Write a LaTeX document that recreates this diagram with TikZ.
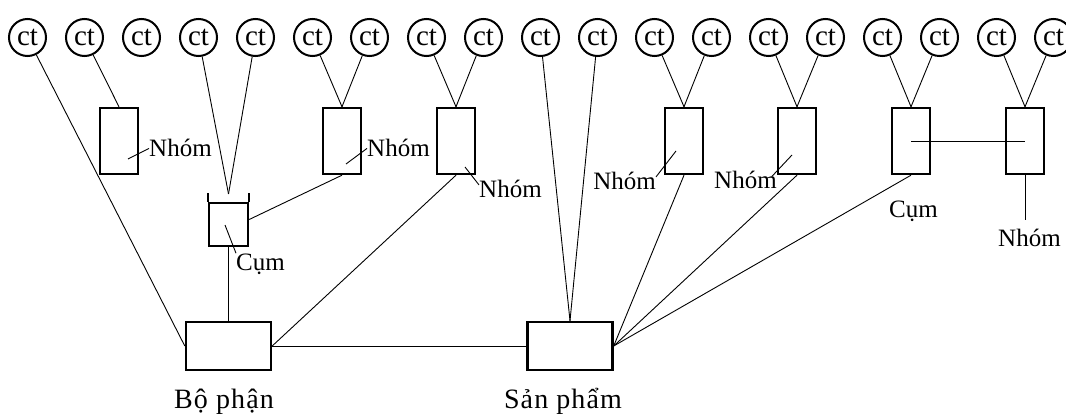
\documentclass[tikz,border=0pt]{standalone}
\usepackage{fontspec}
\setmainfont{Liberation Serif}
\newfontfamily\spaced[LetterSpace=4]{Liberation Serif}
\usetikzlibrary{calc}
\begin{document}
\begin{tikzpicture}[x=1pt,y=-1pt,
  ct/.style={circle,draw,line width=2pt,minimum size=37pt,inner sep=0pt,font=\fontsize{29}{29}\selectfont},
  box/.style={draw,line width=2.4pt,minimum width=38pt,minimum height=66pt,inner sep=0pt},
  cupbox/.style={draw,line width=2.4pt,minimum width=39pt,minimum height=43pt,inner sep=0pt},
  big/.style={draw,line width=2.4pt,minimum width=85pt,minimum height=48pt,inner sep=0pt},
  lab/.style={inner sep=0pt,font=\fontsize{25}{25}\selectfont},
  biglab/.style={inner sep=0pt,font=\spaced\fontsize{28}{28}\selectfont},
  wire/.style={line width=0.9pt}]
\fill[white] (0,0) rectangle (1066,414);
\useasboundingbox (0,0) rectangle (1066,414);
% circles
\foreach \i in {0,...,18} {
  \node[ct] (c\i) at ({27.5+57*\i},37.5) {ct};
}
% boxes
\node[box] (n1) at (119,141) {};
\node[cupbox] (cum1) at (228.5,224.5) {};
\node[box] (n2) at (342,141) {};
\node[box] (n3) at (456,141) {};
\node[box] (n4) at (684,141) {};
\node[box] (n5) at (797,141) {};
\node[box] (cum2) at (911,141) {};
\node[box] (n6) at (1025,141) {};
\node[big] (bp) at (228.5,346) {};
\node[big] (sp) at (570,346) {};
% cup extensions
\draw[line width=2.4pt] (cum1.north west) -- ++(0,-9);
\draw[line width=2.4pt] (cum1.north east) -- ++(0,-9);
\coordinate (cum1top) at (228.5,194);
% connectors
\draw[wire] (c0) -- (bp.west);
\draw[wire] (c1) -- (n1.north);
\draw[wire] (c3) -- (cum1top);
\draw[wire] (c4) -- (cum1top);
\draw[wire] (c5) -- (n2.north);
\draw[wire] (c6) -- (n2.north);
\draw[wire] (c7) -- (n3.north);
\draw[wire] (c8) -- (n3.north);
\draw[wire] (c9) -- (sp.north);
\draw[wire] (c10) -- (sp.north);
\draw[wire] (c11) -- (n4.north);
\draw[wire] (c12) -- (n4.north);
\draw[wire] (c13) -- (n5.north);
\draw[wire] (c14) -- (n5.north);
\draw[wire] (c15) -- (cum2.north);
\draw[wire] (c16) -- (cum2.north);
\draw[wire] (c17) -- (n6.north);
\draw[wire] (c18) -- (n6.north);
\draw[wire] ($(cum1.east)+(0,-5)$) -- (n2.south);
\draw[wire] (cum1.south) -- (bp.north);
\draw[wire] (n3.south) -- (bp.east);
\draw[wire] (bp.east) -- (sp.west);
\draw[wire] (n4.south) -- (sp.east);
\draw[wire] (n5.south) -- (sp.east);
\draw[wire] (cum2.south) -- (sp.east);
\draw[wire] (cum2.center) -- (n6.center);
\coordinate (n6end) at (1025,220);
\draw[wire] (n6.south) -- (n6end);
% labels
\node[lab,anchor=base west] (l1) at (149,157) {Nhóm};
\coordinate (p1) at (128,159);
\draw[wire] (p1) -- (l1.west);
\node[lab,anchor=base west] (l2) at (367,157) {Nhóm};
\coordinate (p2) at (346,164);
\draw[wire] (p2) -- (l2.west);
\node[lab,anchor=base west] (l3) at (479,198) {Nhóm};
\coordinate (p3) at (465,167);
\draw[wire] (p3) -- ($(l3.west)!0.5!(l3.north west)$);
\node[lab,anchor=base east] (l4) at (656,190) {Nhóm};
\coordinate (p4) at (676,151);
\draw[wire] (p4) -- ($(l4.east)!0.5!(l4.north east)$);
\node[lab,anchor=base west] (l5) at (714,189) {Nhóm};
\coordinate (p5) at (792,155);
\draw[wire] (p5) -- ($(l5.north east)+(-5,5)$);
\node[lab,anchor=base west] (l6) at (236,270) {Cụm};
\coordinate (p6) at (225,225);
\draw[wire] (p6) -- (l6.north west);
\node[lab,anchor=base west] (l7) at (889,218) {Cụm};
\node[lab,anchor=base west] (l8) at (998,247) {Nhóm};
\node[biglab,anchor=base] (l9) at (224,408) {Bộ phận};
\node[biglab,anchor=base] (l10) at (563,408) {Sản phẩm};
\end{tikzpicture}
\end{document}
